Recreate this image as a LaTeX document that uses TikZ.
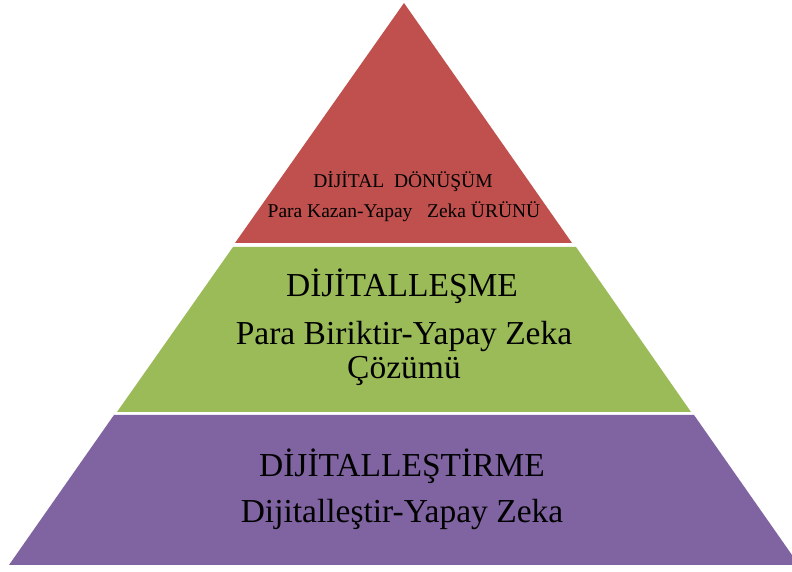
\documentclass[tikz,border=0pt]{standalone}
\usepackage{fontspec}
\setmainfont{Liberation Serif}
\definecolor{layerred}{HTML}{C0504D}
\definecolor{layergreen}{HTML}{9BBB59}
\definecolor{layerpurple}{HTML}{8064A2}
\begin{document}
\begin{tikzpicture}[x=1pt,y=1pt,
  layer/.style={draw=none},
  bigtxt/.style={anchor=base,inner sep=0pt,font=\fontsize{33.5}{37}\selectfont},
  smalltxt/.style={anchor=base,inner sep=0pt,font=\fontsize{19.5}{22}\selectfont}]
\useasboundingbox (0,0) rectangle (792,572);
\fill[white] (0,0) rectangle (792,572);
% layers
\fill[layerred,layer] (404,569) -- (572,329) -- (235,329) -- cycle;
\fill[layergreen,layer] (233,325) -- (576,325) -- (691,160) -- (117,160) -- cycle;
\fill[layerpurple,layer] (114,157) -- (694,157) -- (799,7) -- (9,7) -- cycle;
% texts
\node[smalltxt] (t1) at (403,384) {DİJİTAL\ \ DÖNÜŞÜM};
\node[smalltxt] (t2) at (404,354) {Para Kazan-Yapay\ \ \ Zeka ÜRÜNÜ};
\node[bigtxt] (m1) at (402,275) {DİJİTALLEŞME};
\node[bigtxt] (m2) at (404,227) {Para Biriktir-Yapay Zeka};
\node[bigtxt] (m3) at (404,193) {Çözümü};
\node[bigtxt] (b1) at (402,95) {DİJİTALLEŞTİRME};
\node[bigtxt] (b2) at (402,49) {Dijitalleştir-Yapay Zeka};
\end{tikzpicture}
\end{document}
